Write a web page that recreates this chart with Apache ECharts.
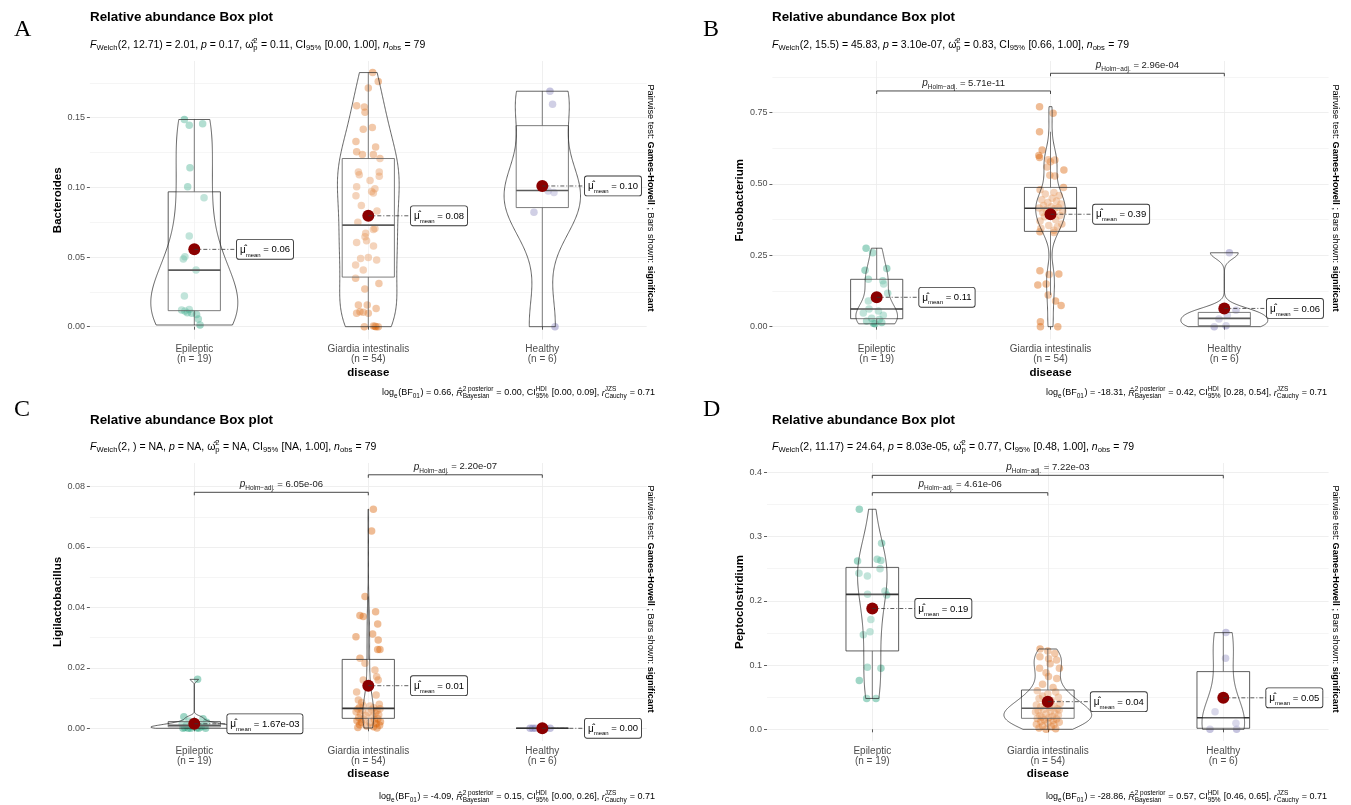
<!DOCTYPE html>
<html>
<head>
<meta charset="utf-8">
<script src="https://cdn.jsdelivr.net/npm/echarts@6/dist/echarts.min.js"></script>
<style>
html, body { margin: 0; background: #fff; }
#chart { width: 1351px; height: 805px; }
</style>
</head>
<body>
<div id="chart"></div>
<script>
var groups = ['Epileptic', 'Giardia intestinalis', 'Healthy'];
var groupN = [19, 54, 6];
var groupColors = ['#1B9E77', '#D95F02', '#7570B3'];

// points: [jitter offset, value]
var bactEpi = [[-0.057,0.1487],[-0.029,0.1446],[0.048,0.1456],[-0.025,0.114],[-0.038,0.1004],[0.056,0.0925],[-0.029,0.065],[-0.054,0.0502],[-0.063,0.0485],[0.010,0.0406],[-0.057,0.022],[-0.073,0.012],[-0.054,0.0112],[-0.029,0.0124],[-0.015,0.0096],[0.013,0.0088],[0.023,0.0055],[0.033,0.0012],[-0.040,0.010]];
var bactGia = [[0.025,0.1824],[0.057,0.176],[0,0.1714],[-0.067,0.1585],[-0.023,0.1577],[-0.019,0.154],[0.023,0.143],[-0.029,0.1417],[-0.071,0.133],[0.042,0.129],[-0.067,0.1255],[-0.034,0.1236],[0.029,0.1236],[0.067,0.1207],[-0.057,0.111],[-0.052,0.109],[0.063,0.111],[0.063,0.108],[0.010,0.105],[-0.067,0.1004],[-0.071,0.094],[0.038,0.099],[0.019,0.097],[0.029,0.096],[-0.040,0.087],[0.050,0.083],[-0.060,0.075],[0.038,0.0705],[0.029,0.0698],[-0.015,0.067],[-0.019,0.0645],[-0.010,0.0617],[-0.067,0.0605],[0.030,0.058],[-0.044,0.049],[0,0.0497],[0.048,0.0478],[-0.073,0.0442],[-0.029,0.0406],[-0.073,0.0347],[0.061,0.031],[-0.020,0.027],[-0.057,0.0155],[-0.006,0.0155],[0.045,0.013],[-0.048,0.0108],[-0.029,0.0103],[0,0.0096],[-0.067,0.0096],[-0.023,0],[0.029,0.0005],[0.044,0],[0.057,0],[0.038,0.0003]];
var bactHea = [[0.044,0.169],[0.059,0.1597],[0.034,0.0973],[0.067,0.0963],[-0.048,0.0822],[0.073,0]];

var fusoEpi = [[-0.061,0.275],[-0.023,0.259],[0.058,0.204],[-0.067,0.198],[-0.048,0.166],[0.035,0.161],[0.040,0.15],[0.063,0.117],[-0.048,0.09],[-0.044,0.062],[0.010,0.055],[-0.077,0.048],[0.038,0.04],[-0.029,0.03],[0.015,0.025],[-0.058,0.02],[0.029,0.015],[-0.019,0.012],[-0.010,0.01]];
var fusoGia = [[-0.063,0.771],[0.015,0.7475],[-0.063,0.683],[-0.048,0.619],[-0.067,0.60],[-0.063,0.593],[-0.013,0.585],[0.025,0.584],[0,0.578],[-0.019,0.56],[0.077,0.549],[-0.004,0.531],[0.025,0.528],
  [0.075,0.488],[-0.06,0.48],[0.02,0.47],[-0.03,0.465],[0.05,0.46],[0.01,0.45],[-0.05,0.445],[0.035,0.44],[-0.015,0.435],[0.06,0.43],[-0.04,0.425],[0.005,0.42],[0.045,0.418],[-0.065,0.416],[0.025,0.414],[-0.025,0.41],[0.07,0.405],[-0.045,0.40],[0.015,0.395],[0.055,0.39],[-0.035,0.385],[0.03,0.375],[-0.06,0.37],[0.065,0.36],[-0.01,0.355],[0.04,0.35],[-0.055,0.345],[0.02,0.338],
  [-0.061,0.333],[0.019,0.33],[-0.061,0.196],[0.048,0.185],[-0.008,0.183],[-0.025,0.15],[-0.073,0.146],[-0.013,0.111],[0.029,0.09],[0.061,0.074],[-0.058,0.0175],[-0.058,0],[0.042,0]];
var fusoHea = [[0.029,0.259],[0.067,0.058],[0.017,0.04],[-0.031,0.027],[0.010,0.003],[-0.058,0]];

var ligiEpi = [[0.019,0.0162],[-0.06,0.0038],[0.05,0.0032],[-0.03,0.0024],[0.07,0.002],[0.0,0.0016],[-0.07,0.0014],[0.03,0.0012],[-0.045,0.001],[0.06,0.0008],[-0.015,0.0006],[0.04,0.0005],[-0.055,0.0003],[0.015,0.0002],[-0.035,0],[0.065,0],[-0.065,0],[0.025,0],[-0.02,0]];
var ligiGia = [[0.029,0.0725],[0.019,0.0653],[-0.019,0.0436],[0.042,0.0386],[-0.048,0.0373],[-0.029,0.037],[0.054,0.0345],[0.025,0.0312],[-0.071,0.0303],[0.057,0.0292],[0.067,0.0261],[0.054,0.0261],[-0.048,0.0232],[-0.019,0.0215],
  [0.038,0.0193],[0.048,0.0171],[-0.029,0.016],[0.057,0.016],[-0.067,0.012],[0.045,0.011],[-0.057,0.0094],[-0.038,0.0085],[0.063,0.008],[-0.029,0.0075],[0.01,0.0074],[-0.05,0.007],[0.03,0.0068],
  [0.067,0.0065],[-0.06,0.0064],[0.02,0.0062],[-0.035,0.006],[0.05,0.0058],[-0.07,0.0055],[0.0,0.0052],[0.04,0.005],[-0.045,0.0047],[0.06,0.0045],[-0.015,0.0042],[0.025,0.004],[-0.055,0.0036],
  [0.055,0.0032],[-0.025,0.003],[0.035,0.0028],[-0.065,0.0025],[0.07,0.0022],[-0.04,0.002],[0.01,0.0018],[0.045,0.0015],[-0.05,0.0012],[0.065,0.001],[-0.01,0.0008],[0.03,0.0005],[-0.06,0.0003],[0.05,0.0001]];
var ligiHea = [[-0.07,0],[-0.04,0],[-0.01,0],[0.02,0],[0.045,0],[-0.055,0]];

var peptoEpi = [[-0.074,0.3425],[0.053,0.2896],[-0.084,0.262],[0.028,0.2647],[0.049,0.2626],[0.044,0.25],[-0.076,0.243],[-0.028,0.2387],[-0.027,0.2102],[0.072,0.2154],[0.082,0.209],[-0.008,0.171],[-0.013,0.152],[-0.051,0.147],[-0.028,0.0965],[0.049,0.095],[-0.074,0.0758],[-0.032,0.048],[0.021,0.048]];
var peptoGia = [[-0.044,0.125],[0.0,0.122],[0.04,0.118],[-0.045,0.113],[0.005,0.11],[0.05,0.108],[0.013,0.102],[-0.047,0.095],[0.066,0.095],[-0.01,0.088],[0.004,0.082],[0.051,0.079],[-0.03,0.07],[0.03,0.065],
  [-0.06,0.06],[0.045,0.058],[0.0,0.055],[-0.03,0.052],[0.06,0.05],[-0.05,0.048],[0.02,0.045],[-0.015,0.043],[0.07,0.04],[-0.065,0.038],[0.035,0.036],[-0.04,0.035],[0.01,0.034],
  [0.055,0.032],[-0.025,0.031],[0.065,0.03],[-0.055,0.029],[0.015,0.028],[-0.07,0.027],[0.04,0.025],[-0.01,0.024],[0.06,0.022],[-0.045,0.021],[0.025,0.02],[-0.035,0.019],[0.005,0.018],
  [-0.06,0.017],[0.05,0.016],[-0.02,0.015],[0.03,0.014],[-0.04,0.012],[0.065,0.011],[0.0,0.01],[-0.065,0.008],[0.035,0.007],[-0.03,0.005],[0.02,0.004],[-0.05,0.002],[0.045,0.001],[-0.01,0]];
var peptoHea = [[0.015,0.1505],[0.013,0.1105],[-0.047,0.0275],[0.072,0.0093],[-0.076,0],[0.076,0]];

// box: [lower whisker, q1, median, q3, upper whisker]
var bactBox = [[0.0012,0.0115,0.0406,0.0968,0.1487],[0,0.0356,0.0729,0.1207,0.1824],[0,0.0855,0.0977,0.1443,0.169]];
var fusoBox = [[0.01,0.028,0.062,0.166,0.275],[0.111,0.334,0.415,0.488,0.683],[0,0.0035,0.029,0.05,0.058]];
var ligiBox = [[0,0.0005,0.001,0.0022,0.0038],[0,0.0033,0.0066,0.0228,0.0436],[0,0,0,0,0]];
var peptoBox = [[0.048,0.122,0.210,0.252,0.3425],[0,0.0171,0.0327,0.0612,0.125],[0,0.0016,0.018,0.0898,0.1505]];

var bactMean = [0.0555, 0.0796, 0.101];
var fusoMean = [0.103, 0.394, 0.064];
var ligiMean = [0.0015, 0.0141, 0];
var peptoMean = [0.188, 0.043, 0.049];
var bactMeanText = ['0.06', '0.08', '0.10'];
var fusoMeanText = ['0.11', '0.39', '0.06'];
var ligiMeanText = ['1.67e-03', '0.01', '0.00'];
var peptoMeanText = ['0.19', '0.04', '0.05'];

// pairwise brackets: [group a, group b, y, p]
var bactPairs = [];
var fusoPairs = [[1, 2, 0.826, '5.71e-11'], [2, 3, 0.888, '2.96e-04']];
var ligiPairs = [[1, 2, 0.0781, '6.05e-06'], [2, 3, 0.0839, '2.20e-07']];
var peptoPairs = [[1, 3, 0.3953, '7.22e-03'], [1, 2, 0.3683, '4.61e-06']];

var bactTicks = [0, 0.05, 0.10, 0.15], bactMinor = [0.025, 0.075, 0.125, 0.175];
var fusoTicks = [0, 0.25, 0.5, 0.75], fusoMinor = [0.125, 0.375, 0.625, 0.875];
var ligiTicks = [0, 0.02, 0.04, 0.06, 0.08], ligiMinor = [0.01, 0.03, 0.05, 0.07];
var peptoTicks = [0, 0.1, 0.2, 0.3, 0.4], peptoMinor = [0.05, 0.15, 0.25, 0.35];

var welchDf = ['12.71', '15.5', '', '11.17'];
var welchF = ['2.01', '45.83', 'NA', '24.64'];
var welchP = ['0.17', '3.10e-07', 'NA', '8.03e-05'];
var omegaSq = ['0.11', '0.83', 'NA', '0.77'];
var omegaCI = ['0.00, 1.00', '0.66, 1.00', 'NA, 1.00', '0.48, 1.00'];
var logBF = ['0.66', '-18.31', '-4.09', '-28.86'];
var r2Bayes = ['0.00', '0.42', '0.15', '0.57'];
var r2CI = ['0.00, 0.09', '0.28, 0.54', '0.00, 0.26', '0.46, 0.65'];

var FONT = '"Liberation Sans", Arial, sans-serif';

var panels = [
    { letter: 'A', yName: 'Bacteroides', pts: [bactEpi, bactGia, bactHea], box: bactBox, mean: bactMean, meanText: bactMeanText,
      pairs: bactPairs, ticks: bactTicks, minor: bactMinor, dec: 2, yMin: -0.0092, yMax: 0.1907, nameGap: 21,
      grid: { left: 89.9, top: 61, width: 556.8, height: 278.5 }, lx: 14, ly: 30, tx: 90, ty: 17, sy: 45, cx: 655, cy: 393, rx: 651, ry: 198 },
    { letter: 'B', yName: 'Fusobacterium', pts: [fusoEpi, fusoGia, fusoHea], box: fusoBox, mean: fusoMean, meanText: fusoMeanText,
      pairs: fusoPairs, ticks: fusoTicks, minor: fusoMinor, dec: 2, yMin: -0.0449, yMax: 0.931, nameGap: 23,
      grid: { left: 772.4, top: 61, width: 556.2, height: 278.5 }, lx: 703, ly: 30, tx: 772, ty: 17, sy: 45, cx: 1327, cy: 393, rx: 1336, ry: 198 },
    { letter: 'C', yName: 'Ligilactobacillus', pts: [ligiEpi, ligiGia, ligiHea], box: ligiBox, mean: ligiMean, meanText: ligiMeanText,
      pairs: ligiPairs, ticks: ligiTicks, minor: ligiMinor, dec: 2, yMin: -0.0042, yMax: 0.0878, nameGap: 22,
      grid: { left: 89.9, top: 463, width: 556.8, height: 278 }, lx: 14, ly: 410, tx: 90, ty: 420, sy: 447, cx: 655, cy: 797, rx: 651, ry: 599 },
    { letter: 'D', yName: 'Peptoclostridium', pts: [peptoEpi, peptoGia, peptoHea], box: peptoBox, mean: peptoMean, meanText: peptoMeanText,
      pairs: peptoPairs, ticks: peptoTicks, minor: peptoMinor, dec: 1, yMin: -0.0182, yMax: 0.4145, nameGap: 21,
      grid: { left: 767, top: 463, width: 561.6, height: 278 }, lx: 703, ly: 410, tx: 772, ty: 420, sy: 447, cx: 1327, cy: 797, rx: 1336, ry: 599 }
];

// gaussian kernel density, bw.nrd0, trimmed to the data range
function kde(vals) {
    var n = vals.length;
    var s = vals.slice().sort(function(a, b) { return a - b; });
    var lo = s[0], hi = s[n - 1];
    if (hi - lo <= 0) return null;
    var mean = 0;
    s.forEach(function(v) { mean += v; });
    mean /= n;
    var ss = 0;
    s.forEach(function(v) { ss += (v - mean) * (v - mean); });
    var sd = Math.sqrt(ss / (n - 1));
    var q = function(p) {
        var h = (n - 1) * p, i = Math.floor(h);
        return s[i] + (h - i) * ((i + 1 < n ? s[i + 1] : s[i]) - s[i]);
    };
    var l = Math.min(sd, (q(0.75) - q(0.25)) / 1.34);
    if (!(l > 0)) l = sd || Math.abs(s[0]) || 1;
    var bw = 0.9 * l * Math.pow(n, -0.2);
    var ys = [], ds = [], max = 0;
    for (var k = 0; k <= 200; k++) {
        var y = lo + (hi - lo) * k / 200, t = 0;
        for (var j = 0; j < n; j++) {
            var z = (y - vals[j]) / bw;
            t += Math.exp(-0.5 * z * z);
        }
        var d = t / (n * bw * Math.sqrt(2 * Math.PI));
        ys.push(y);
        ds.push(d);
        if (d > max) max = d;
    }
    return { y: ys, d: ds, max: max };
}

// text with sub/superscripts laid out piece by piece
var measureCtx = document.createElement('canvas').getContext('2d');
function textWidth(str, size, italic, bold) {
    measureCtx.font = (italic ? 'italic ' : '') + (bold ? 'bold ' : '') + size + 'px ' + FONT;
    return measureCtx.measureText(str).width;
}
function mathLine(parts, x, y, size, alignRight) {
    var small = Math.round(size * 0.72 * 10) / 10;
    var items = [], cx = 0;
    parts.forEach(function(p) {
        if (p.t != null) {
            items.push({ text: p.t, x: cx, dy: 0, size: size, italic: p.i });
            cx += textWidth(p.t, size, p.i);
        } else {
            var w = 0;
            if (p.sup) {
                items.push({ text: p.sup, x: cx, dy: -size * 0.42, size: small });
                w = Math.max(w, textWidth(p.sup, small));
            }
            if (p.sub) {
                items.push({ text: p.sub, x: cx, dy: size * 0.32, size: small });
                w = Math.max(w, textWidth(p.sub, small));
            }
            cx += w + 0.5;
        }
    });
    var x0 = alignRight ? x - cx : x;
    return items.map(function(it) {
        return {
            type: 'text', x: x0 + it.x, y: y + it.dy, silent: true,
            style: {
                text: it.text, fill: '#000', verticalAlign: 'middle', align: 'left',
                font: (it.italic ? 'italic ' : '') + it.size + 'px ' + FONT
            }
        };
    });
}
function welchParts(i) {
    return [{ t: 'F', i: 1 }, { sub: 'Welch' }, { t: '(2, ' + welchDf[i] + ') = ' + welchF[i] + ', ' }, { t: 'p', i: 1 },
        { t: ' = ' + welchP[i] + ', ' }, { t: '\u03c9\u0302' }, { sup: '2', sub: 'p' }, { t: ' = ' + omegaSq[i] + ', CI' },
        { sub: '95%' }, { t: ' [' + omegaCI[i] + '], ' }, { t: 'n', i: 1 }, { sub: 'obs' }, { t: ' = 79' }];
}
function bayesParts(i) {
    return [{ t: 'log' }, { sub: 'e' }, { t: '(BF' }, { sub: '01' }, { t: ') = ' + logBF[i] + ', ' }, { t: 'R\u0302', i: 1 },
        { sup: '2 posterior', sub: 'Bayesian' }, { t: ' = ' + r2Bayes[i] + ', CI' }, { sup: 'HDI', sub: '95%' },
        { t: ' [' + r2CI[i] + '], ' }, { t: 'r', i: 1 }, { sup: 'JZS', sub: 'Cauchy' }, { t: ' = 0.71' }];
}

var grids = [], xAxes = [], yAxes = [], series = [], graphics = [];

panels.forEach(function(P, pi) {
    grids.push({ left: P.grid.left, top: P.grid.top, width: P.grid.width, height: P.grid.height });
    xAxes.push({
        type: 'value', gridIndex: pi, min: 0.4, max: 3.6,
        axisLine: { show: false },
        axisTick: { show: true, length: 3, customValues: [1, 2, 3], lineStyle: { color: '#333', width: 0.8 } },
        axisLabel: {
            customValues: [1, 2, 3], fontSize: 10, color: '#4D4D4D', lineHeight: 10, margin: 5, fontFamily: FONT,
            formatter: function(v) { return groups[v - 1] + '\n(n = ' + groupN[v - 1] + ')'; }
        },
        splitLine: { show: true, lineStyle: { color: '#EBEBEB', width: 0.8 } },
        name: 'disease', nameLocation: 'middle', nameGap: 27,
        nameTextStyle: { fontWeight: 'bold', fontSize: 11.5, color: '#000', fontFamily: FONT }
    });
    yAxes.push({
        type: 'value', gridIndex: pi, min: P.yMin, max: P.yMax,
        axisLine: { show: false },
        axisTick: { show: true, length: 3, customValues: P.ticks, lineStyle: { color: '#333', width: 0.8 } },
        axisLabel: {
            customValues: P.ticks, fontSize: 9, color: '#4D4D4D', margin: 5, fontFamily: FONT,
            formatter: function(v) { return v.toFixed(P.dec); }
        },
        splitLine: { show: true, lineStyle: { color: '#EBEBEB', width: 0.8 } },
        name: P.yName, nameLocation: 'middle', nameGap: P.nameGap,
        nameTextStyle: { fontWeight: 'bold', fontSize: 11.5, color: '#000', fontFamily: FONT }
    });
    yAxes.push({
        type: 'value', gridIndex: pi, min: P.yMin, max: P.yMax, position: 'right',
        axisLine: { show: false },
        axisTick: { show: false, customValues: P.minor },
        axisLabel: { show: false, customValues: P.minor },
        splitLine: { show: true, lineStyle: { color: '#F3F3F3', width: 0.8 } }
    });
    var yi = pi * 2;

    // jittered points
    P.pts.forEach(function(pts, g) {
        series.push({
            type: 'scatter', xAxisIndex: pi, yAxisIndex: yi, z: 2, silent: true,
            symbolSize: 7.5,
            itemStyle: { color: groupColors[g], opacity: 0.42 },
            data: pts.map(function(d) { return [g + 1 + d[0], d[1]]; })
        });
    });

    // box plots
    series.push({
        type: 'custom', xAxisIndex: pi, yAxisIndex: yi, z: 3, silent: true,
        data: [[1, 0], [2, 0], [3, 0]],
        renderItem: function(params, api) {
            var g = params.dataIndex, b = P.box[g], x = g + 1;
            var tl = api.coord([x - 0.15, b[3]]), br = api.coord([x + 0.15, b[1]]);
            var yy = function(v) { return api.coord([x, v])[1]; };
            var cxp = api.coord([x, 0])[0];
            var ln = { stroke: '#333', lineWidth: 0.8 };
            return {
                type: 'group', children: [
                    { type: 'line', shape: { x1: cxp, y1: yy(b[3]), x2: cxp, y2: yy(b[4]) }, style: ln },
                    { type: 'line', shape: { x1: cxp, y1: yy(b[1]), x2: cxp, y2: yy(b[0]) }, style: ln },
                    { type: 'rect', shape: { x: tl[0], y: tl[1], width: br[0] - tl[0], height: br[1] - tl[1] },
                      style: { fill: 'rgba(255,255,255,0.2)', stroke: '#333', lineWidth: 0.8 } },
                    { type: 'line', shape: { x1: tl[0], y1: yy(b[2]), x2: br[0], y2: yy(b[2]) }, style: { stroke: '#333', lineWidth: 1.6 } }
                ]
            };
        }
    });

    // violins from a kernel density of each group's values
    var dens = P.pts.map(function(pts) { return kde(pts.map(function(d) { return d[1]; })); });
    var maxD = 0;
    dens.forEach(function(d) { if (d && d.max > maxD) maxD = d.max; });
    series.push({
        type: 'custom', xAxisIndex: pi, yAxisIndex: yi, z: 4, silent: true,
        data: [[1, 0], [2, 0], [3, 0]],
        renderItem: function(params, api) {
            var g = params.dataIndex, d = dens[g];
            if (!d) return null;
            var pts = [], k;
            for (k = 0; k < d.y.length; k++) pts.push(api.coord([g + 1 - 0.25 * d.d[k] / maxD, d.y[k]]));
            for (k = d.y.length - 1; k >= 0; k--) pts.push(api.coord([g + 1 + 0.25 * d.d[k] / maxD, d.y[k]]));
            return { type: 'polygon', shape: { points: pts }, style: { fill: 'rgba(255,255,255,0.2)', stroke: '#222', lineWidth: 0.7 } };
        }
    });

    // means
    series.push({
        type: 'scatter', xAxisIndex: pi, yAxisIndex: yi, z: 5, silent: true,
        symbolSize: 12, itemStyle: { color: '#8B0000', opacity: 1 },
        data: P.mean.map(function(m, g) { return [g + 1, m]; })
    });

    // mean labels
    series.push({
        type: 'custom', xAxisIndex: pi, yAxisIndex: yi, z: 6, silent: true,
        data: [[1, 0], [2, 0], [3, 0]],
        renderItem: function(params, api) {
            var g = params.dataIndex;
            var shift = (pi === 2 && g === 0) ? 0.19 : 0.245;
            var c = api.coord([g + 1, P.mean[g]]);
            var lx = api.coord([g + 1 + shift, P.mean[g]])[0];
            return {
                type: 'group', children: [
                    { type: 'line', shape: { x1: c[0], y1: c[1], x2: lx, y2: c[1] }, style: { stroke: '#333', lineWidth: 0.8, lineDash: [4, 2, 1, 2] } },
                    { type: 'text', x: lx, y: c[1], z2: 10, style: {
                        text: '{m|\u03bc\u0302}{s|mean}{t| = ' + P.meanText[g] + '}',
                        rich: {
                            m: { fontSize: 10, lineHeight: 16, fontFamily: FONT, fill: '#000' },
                            s: { fontSize: 6, lineHeight: 7, verticalAlign: 'bottom', fontFamily: FONT, fill: '#000' },
                            t: { fontSize: 9.5, lineHeight: 16, fontFamily: FONT, fill: '#000' }
                        },
                        align: 'left', verticalAlign: 'middle', backgroundColor: '#fff', borderColor: '#333',
                        borderWidth: 0.9, borderRadius: 2, padding: [2, 3, 1, 3]
                    } }
                ]
            };
        }
    });

    // significance brackets
    if (P.pairs.length) {
        series.push({
            type: 'custom', xAxisIndex: pi, yAxisIndex: yi, z: 6, silent: true,
            data: P.pairs.map(function(p) { return [(p[0] + p[1]) / 2, p[2]]; }),
            renderItem: function(params, api) {
                var p = P.pairs[params.dataIndex];
                var a = api.coord([p[0], p[2]]), b = api.coord([p[1], p[2]]);
                return {
                    type: 'group', children: [
                        { type: 'polyline', shape: { points: [[a[0], a[1] + 3], a, b, [b[0], b[1] + 3]] }, style: { fill: null, stroke: '#333', lineWidth: 0.9 } },
                        { type: 'text', x: (a[0] + b[0]) / 2, y: a[1] - 8, style: {
                            text: '{p|p}{s|Holm\u2212adj.}{t| = ' + p[3] + '}',
                            rich: {
                                p: { fontSize: 10, fontStyle: 'italic', lineHeight: 15, fontFamily: FONT, fill: '#222' },
                                s: { fontSize: 6.5, lineHeight: 6, verticalAlign: 'bottom', fontFamily: FONT, fill: '#222' },
                                t: { fontSize: 9.5, lineHeight: 15, fontFamily: FONT, fill: '#222' }
                            },
                            align: 'center', verticalAlign: 'middle'
                        } }
                    ]
                };
            }
        });
    }

    // texts around the panel
    graphics.push({ type: 'text', x: P.lx, y: P.ly, silent: true,
        style: { text: P.letter, font: '24px "Liberation Serif", "Times New Roman", serif', fill: '#000', verticalAlign: 'middle' } });
    graphics.push({ type: 'text', x: P.tx, y: P.ty, silent: true,
        style: { text: 'Relative abundance Box plot', font: 'bold 13.4px ' + FONT, fill: '#000', verticalAlign: 'middle' } });
    mathLine(welchParts(pi), P.tx, P.sy, 10.5, false).forEach(function(e) { graphics.push(e); });
    mathLine(bayesParts(pi), P.cx, P.cy, 9, true).forEach(function(e) { graphics.push(e); });
    graphics.push({ type: 'text', x: P.rx, y: P.ry, rotation: -Math.PI / 2, silent: true,
        style: {
            text: '{n|Pairwise test: }{b|Games-Howell}{n| ; Bars shown: }{b|significant}',
            rich: {
                n: { fontSize: 9.2, fontFamily: FONT, fill: '#000' },
                b: { fontSize: 9.2, fontFamily: FONT, fontWeight: 'bold', fill: '#000' }
            },
            align: 'center', verticalAlign: 'middle'
        } });
});

var chart = echarts.init(document.getElementById('chart'), null, { renderer: 'canvas' });
chart.setOption({
    animation: false,
    backgroundColor: '#fff',
    textStyle: { fontFamily: FONT },
    grid: grids,
    xAxis: xAxes,
    yAxis: yAxes,
    series: series,
    graphic: { elements: graphics }
});
</script>
</body>
</html>
